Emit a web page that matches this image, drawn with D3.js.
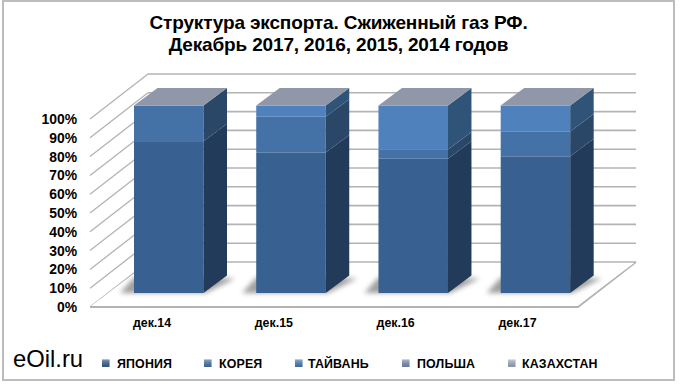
<!DOCTYPE html>
<html><head><meta charset="utf-8">
<script src="https://cdn.jsdelivr.net/npm/d3@7/dist/d3.min.js"></script>
<style>html,body{margin:0;padding:0;background:#fff}svg{display:block}text{font-family:"Liberation Sans",Arial,sans-serif}</style>
</head><body><svg id="c" width="680" height="385"></svg>
<script>
const titleLines = ["Структура экспорта. Сжиженный газ РФ.", "Декабрь 2017, 2016, 2015, 2014 годов"];
const categories = ["дек.14", "дек.15", "дек.16", "дек.17"];
const seriesNames = ["ЯПОНИЯ", "КОРЕЯ", "ТАЙВАНЬ", "ПОЛЬША", "КАЗАХСТАН"];
const japan = [81, 75, 71.6, 72.9];
const korea = [19, 19, 5, 13.3];
const taiwan = [0, 6, 23.4, 13.8];
const poland = [0, 0, 0, 0];
const kazakhstan = [0, 0, 0, 0];
const ticks = [0, 10, 20, 30, 40, 50, 60, 70, 80, 90, 100];
const brand = "eOil.ru";

const values = [japan, korea, taiwan, poland, kazakhstan];
const frontCol = ["#386090", "#4472a6", "#4f81bd", "#7f93b5", "#a5b0c5"];
const sideCol = ["#233b5a", "#2b4768", "#305378", "#4a5a75", "#666f80"];
const legendCol = ["#3d6490", "#4a78ac", "#4f81bd", "#8295b8", "#a9b3c6"];
const legendX = [102, 204, 295, 402, 508];
const legendTextX = [117, 219, 308, 417, 522];

const svg = d3.select("#c");
const defs = svg.append("defs");
defs.append("filter").attr("id", "blur").attr("x", "-30%").attr("y", "-100%").attr("width", "160%").attr("height", "300%")
  .append("feGaussianBlur").attr("stdDeviation", 2.4);
const lg = defs.append("linearGradient").attr("id", "sw").attr("x1", 0).attr("x2", 0).attr("y1", 0).attr("y2", 1);
lg.append("stop").attr("offset", 0).attr("stop-color", "#fff").attr("stop-opacity", .35);
lg.append("stop").attr("offset", 1).attr("stop-color", "#000").attr("stop-opacity", .18);

svg.append("rect").attr("x", 3).attr("y", 1).attr("width", 671).attr("height", 379)
  .attr("fill", "#fff").attr("stroke", "#bdbdbd").attr("stroke-width", 2);

svg.selectAll("text.title").data(titleLines).join("text").attr("class", "title")
  .attr("x", 338.5).attr("y", (d, i) => 29 + i * 21.5).attr("text-anchor", "middle")
  .attr("font-size", 19).attr("font-weight", "bold").attr("fill", "#000").attr("letter-spacing", -0.15).text(d => d);

// 3D box: depth offset in x / y
const dx = 58, dy = -45;           // wall depth
const bdx = 23.5, bdy = -17.5;     // bar depth
const yFront = d3.scaleLinear().domain([0, 100]).range([307, 119]);
const yBar = d3.scaleLinear().domain([0, 100]).range([293, 105.5]);
const xFloorL = 90, xFloorR = 580;
const x = d3.scalePoint().domain(categories).range([134, 500.7]);
const barW = 69.5;

// gridlines
const gridCol = "#b3b3b3";
const g = svg.append("g").attr("fill", "none").attr("stroke", gridCol);
g.selectAll("line.back").data(ticks).join("line").attr("class", "back")
  .attr("x1", xFloorL + dx).attr("x2", xFloorR + dx - 2)
  .attr("y1", d => yFront(d) + dy).attr("y2", d => yFront(d) + dy).attr("stroke-width", 1.6);
g.selectAll("line.wall").data(ticks).join("line").attr("class", "wall")
  .attr("x1", xFloorL).attr("x2", xFloorL + dx)
  .attr("y1", d => yFront(d)).attr("y2", d => yFront(d) + dy).attr("stroke-width", 1.3);
g.append("path").attr("d", d3.line()([
  [xFloorL, yFront(0)], [xFloorR - 2, yFront(0)], [xFloorR + dx - 2, yFront(0) + dy]
])).attr("stroke-width", 1.8);
svg.append("path").attr("d", d3.line()([
  [xFloorL + 1, yFront(0) - 1], [xFloorR - 3, yFront(0) - 1], [xFloorR + dx - 4, yFront(0) + dy + 1], [xFloorL + dx, yFront(0) + dy + 1]
]) + "Z").attr("fill", "#fff");

// bars
const bars = svg.selectAll("g.bar").data(categories).join("g").attr("class", "bar");
bars.each(function (cat, i) {
  const s = d3.select(this), x0 = x(cat), x1 = x0 + barW;
  // soft floor shadow
  s.append("path").attr("filter", "url(#blur)").attr("fill", "#777").attr("opacity", .7)
    .attr("d", d3.line()([[x0 - 14, yBar(0)], [x1 + 2, yBar(0)], [x1 + bdx + 8, yBar(0) + bdy + 3], [x1, yBar(0) + bdy + 2], [x0, yBar(0) + bdy + 2]]) + "Z");
  let acc = 0;
  values.forEach((ser, k) => {
    const v = ser[i];
    if (v <= 0) return;
    const yb = yBar(acc), yt = yBar(acc + v);
    s.append("rect").attr("x", x0).attr("y", yt).attr("width", barW).attr("height", yb - yt).attr("fill", frontCol[k]);
    s.append("path").attr("fill", sideCol[k]).attr("d", d3.line()([[x1, yb], [x1 + bdx, yb + bdy], [x1 + bdx, yt + bdy], [x1, yt]]) + "Z");
    acc += v;
  });
  const yt = yBar(acc);
  s.append("path").attr("fill", "#9097a8").attr("d", d3.line()([[x0, yt], [x1, yt], [x1 + bdx, yt + bdy], [x0 + bdx, yt + bdy]]) + "Z");
});

// y axis
const yAxis = svg.append("g").attr("transform", "translate(77,0)")
  .call(d3.axisLeft(yFront).tickValues(ticks).tickSize(0).tickPadding(0).tickFormat(d => d + "%"));
yAxis.select(".domain").remove();
yAxis.selectAll("text").attr("font-size", 13.9).attr("font-weight", "bold").attr("fill", "#000").attr("font-family", '"Liberation Sans"');

// x axis
const xAxis = svg.append("g").attr("transform", "translate(0,318)")
  .call(d3.axisBottom(d3.scalePoint().domain(categories).range([151.5, 517])).tickSize(0).tickPadding(0));
xAxis.select(".domain").remove();
xAxis.selectAll("text").attr("font-size", 12.4).attr("font-weight", "bold").attr("fill", "#000").attr("font-family", '"Liberation Sans"');

// legend
const leg = svg.selectAll("g.leg").data(seriesNames).join("g").attr("class", "leg");
leg.append("rect").attr("x", (d, i) => legendX[i]).attr("y", 359.5).attr("width", 7.5).attr("height", 7.5).attr("fill", (d, i) => legendCol[i]);
leg.append("rect").attr("x", (d, i) => legendX[i]).attr("y", 359.5).attr("width", 7.5).attr("height", 7.5).attr("fill", "url(#sw)");
leg.append("text").attr("x", (d, i) => legendTextX[i]).attr("y", 368)
  .attr("font-size", 12.4).attr("font-weight", "bold").attr("fill", "#000").attr("letter-spacing", 0.15).text(d => d);

svg.append("text").attr("x", 13).attr("y", 366.5).attr("font-size", 23.8).attr("fill", "#000").text(brand);
</script></body></html>
